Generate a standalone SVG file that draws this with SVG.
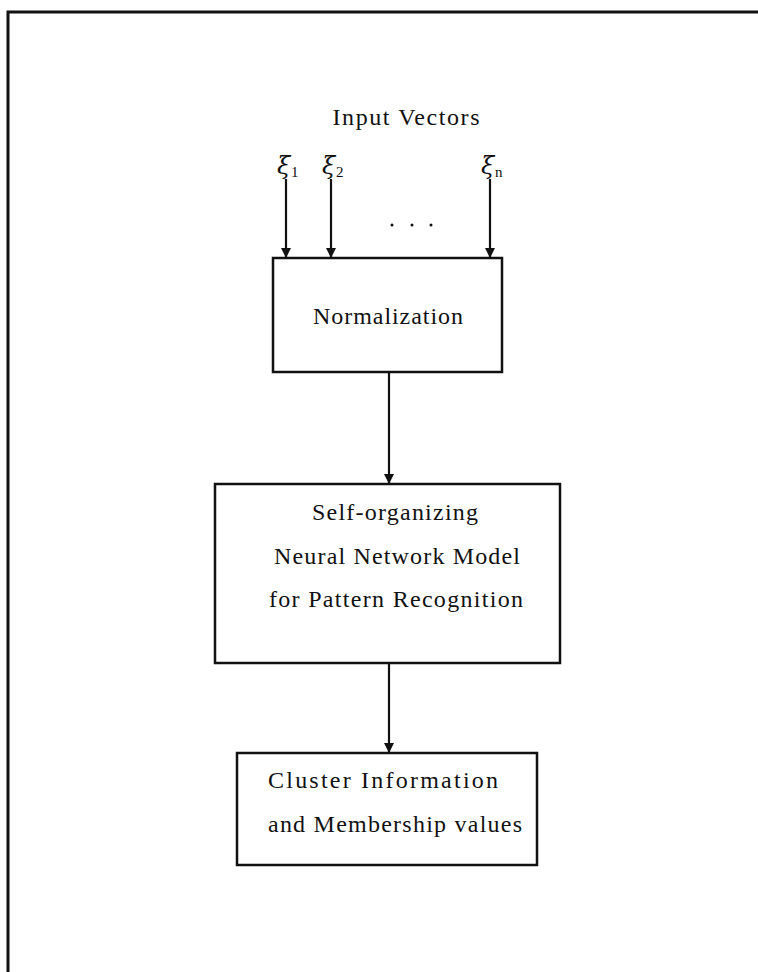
<svg xmlns="http://www.w3.org/2000/svg" width="758" height="972" viewBox="0 0 758 972">
<defs>
<style>
.t{font-family:"Liberation Serif","DejaVu Serif",serif;font-size:24px;fill:#111;text-anchor:middle}
.sym{font-family:"DejaVu Serif","Liberation Serif",serif;font-style:italic;font-size:24px;fill:#111}
.sub{font-family:"Liberation Serif","DejaVu Serif",serif;font-size:15px;fill:#111}
.box{fill:#fff;stroke:#111;stroke-width:2.5}
.c{stroke:#111;stroke-width:2.2;fill:none;marker-end:url(#ah)}
</style>
<marker id="ah" viewBox="0 0 10 12" refX="10" refY="6" markerWidth="10" markerHeight="12" markerUnits="userSpaceOnUse" orient="auto">
<path d="M0,1 L10,6 L0,11 Z" fill="#111"/>
</marker>
</defs>
<rect width="758" height="972" fill="#fff"/>
<g id="frame">
<path d="M8,972 L8,12 L758,12" fill="none" stroke="#111" stroke-width="3"/>
</g>
<g id="input-label">
<text class="t" x="406" y="125" textLength="147">Input Vectors</text>
<text class="sym" x="277" y="174">ξ</text><text class="sub" x="291" y="177">1</text>
<text class="sym" x="322" y="174">ξ</text><text class="sub" x="336" y="177">2</text>
<text class="sym" x="481" y="174">ξ</text><text class="sub" x="495" y="177">n</text>
<circle cx="392" cy="225" r="1.5" fill="#111"/>
<circle cx="412" cy="225" r="1.5" fill="#111"/>
<circle cx="431" cy="225" r="1.5" fill="#111"/>
</g>
<g id="connectors">
<line class="c" x1="286" y1="179" x2="286" y2="258"/>
<line class="c" x1="331" y1="179" x2="331" y2="258"/>
<line class="c" x1="490" y1="179" x2="490" y2="258"/>
<line class="c" x1="389" y1="372" x2="389" y2="484"/>
<line class="c" x1="389" y1="663" x2="389" y2="753"/>
</g>
<g id="normalization">
<rect class="box" x="273" y="258" width="229" height="114"/>
<text class="t" x="388" y="324" textLength="150">Normalization</text>
</g>
<g id="som">
<rect class="box" x="215" y="484" width="345" height="179"/>
<text class="t" x="395" y="520" textLength="166">Self-organizing</text>
<text class="t" x="397" y="564" textLength="246">Neural Network Model</text>
<text class="t" x="396" y="607" textLength="254">for Pattern Recognition</text>
</g>
<g id="cluster">
<rect class="box" x="237" y="753" width="300" height="112"/>
<text class="t" x="383" y="788" textLength="230">Cluster Information</text>
<text class="t" x="395" y="832" textLength="254">and Membership values</text>
</g>
</svg>
